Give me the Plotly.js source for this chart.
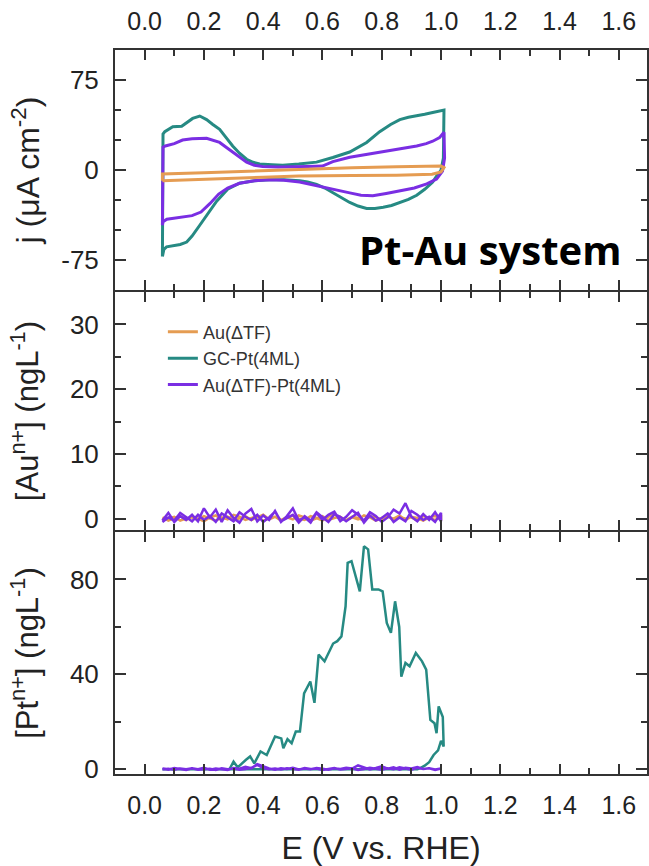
<!DOCTYPE html>
<html>
<head>
<meta charset="utf-8">
<script src="https://cdn.plot.ly/plotly-3.0.1.min.js"></script>
<style>html,body{margin:0;padding:0;background:#fff;}#chart{width:649px;height:866px;}</style>
</head>
<body>
<div id="chart"></div>
<script>
// ---------- Panel 1: cyclic voltammograms j (µA cm^-2) vs E ----------
const cvAuE = [0.06,0.06,0.2,0.4,0.52,0.7,0.85,1.0,1.01,1.0,0.97,0.85,0.7,0.52,0.4,0.2,0.06];
const cvAuJ = [-9,-3.3,-2.2,-0.4,0.8,2.0,2.8,3.3,2.0,-1.5,-3.5,-4.3,-4.6,-4.9,-6,-7.6,-9];

const cvPtE = [0.06,0.062,0.068,0.095,0.125,0.162,0.186,0.209,0.23,0.253,0.275,0.297,0.32,0.344,0.366,0.388,0.43,0.466,0.52,0.58,0.635,0.692,0.749,0.793,0.83,0.861,0.89,0.918,0.945,0.972,1.0,1.01,1.008,1.0,0.985,0.972,0.945,0.918,0.89,0.861,0.833,0.805,0.777,0.749,0.72,0.692,0.664,0.635,0.608,0.58,0.55,0.523,0.47,0.42,0.37,0.32,0.28,0.243,0.21,0.186,0.16,0.142,0.12,0.095,0.074,0.065,0.06];
const cvPtJ = [-72,30,32,36,36.5,43,45,42,38,34,27,20,14,9,6.5,5,4.5,4,5,6.6,10.5,15,23,32,38,42,44,45,46.5,48,49.5,50,10,0,-5,-10,-16,-21,-24.5,-27,-29.5,-31,-32,-32,-30,-27,-23,-18.5,-15,-12,-10,-9,-8,-8,-9,-11,-16,-26,-37,-46,-55,-60,-62,-63,-64,-66,-72];

const cvAuPtE = [0.06,0.062,0.07,0.1,0.128,0.16,0.209,0.23,0.253,0.275,0.297,0.32,0.344,0.37,0.398,0.45,0.5,0.55,0.6,0.635,0.692,0.749,0.805,0.861,0.918,0.95,0.972,0.995,1.01,1.012,1.005,0.985,0.952,0.91,0.861,0.815,0.77,0.73,0.692,0.635,0.58,0.523,0.47,0.42,0.37,0.32,0.28,0.25,0.22,0.19,0.16,0.13,0.1,0.075,0.062,0.06];
const cvAuPtJ = [-46,19,20,22,25,26,26.5,25,23,19,15,11,6.6,4,3,2.5,2.5,3,3.3,7,10.7,13,15,17.4,20,22,24,27,31.5,10,-1,-7.5,-11.6,-15,-17,-19.5,-21.5,-21,-19,-16,-13,-10,-8.5,-8,-9,-11,-15,-20,-28,-35,-38,-39,-40,-41,-43,-46];

// ---------- Panel 2: dissolved Au (ngL^-1) ----------
const icpE = [0.06,0.08,0.10,0.12,0.14,0.16,0.18,0.20,0.22,0.24,0.26,0.28,0.30,0.32,0.34,0.36,0.38,0.40,0.42,0.44,0.46,0.48,0.50,0.52,0.54,0.56,0.58,0.60,0.62,0.64,0.66,0.68,0.70,0.72,0.74,0.76,0.78,0.80,0.82,0.84,0.86,0.88,0.90,0.92,0.94,0.96,0.98,1.00,
              1.00,0.98,0.96,0.94,0.92,0.90,0.88,0.86,0.84,0.82,0.80,0.78,0.76,0.74,0.72,0.70,0.68,0.66,0.64,0.62,0.60,0.58,0.56,0.54,0.52,0.50,0.48,0.46,0.44,0.42,0.40,0.38,0.36,0.34,0.32,0.30,0.28,0.26,0.24,0.22,0.20,0.18,0.16,0.14,0.12,0.10,0.08,0.06];
const auAu = [0.2,-0.3,0.1,0.4,-0.2,0.3,0.0,-0.4,0.2,0.5,-0.1,0.3,-0.3,0.1,0.4,-0.2,0.2,0.6,-0.1,0.3,-0.3,0.2,0.5,0.0,-0.2,0.4,0.1,-0.3,0.3,0.7,0.0,-0.2,0.3,0.1,-0.3,0.4,0.2,-0.1,0.3,0.0,0.5,-0.2,0.3,0.1,-0.3,0.2,0.4,0.0,
              0.3,-0.2,0.1,0.4,-0.3,0.2,0.0,0.3,-0.2,0.4,0.1,-0.3,0.2,0.5,-0.1,0.2,-0.3,0.3,0.1,-0.2,0.4,0.0,-0.3,0.2,0.5,-0.1,0.2,-0.2,0.3,0.0,-0.3,0.4,0.1,-0.2,0.3,0.6,-0.1,0.2,-0.3,0.1,0.4,-0.2,0.2,0.0,-0.3,0.3,0.1,-0.2];
const auAuPt = [-0.3,0.9,-0.5,0.4,-0.2,0.6,-0.4,1.6,0.2,1.4,-0.5,1.3,0.1,-0.6,0.8,1.5,-0.4,0.5,-0.2,1.2,-0.5,0.4,1.6,-0.3,0.2,-0.6,0.9,-0.2,0.6,1.1,-0.4,0.3,1.3,0.6,-0.3,1.0,0.4,-0.5,0.2,1.4,0.8,2.4,0.3,-0.4,0.7,-0.2,1.0,-0.4,
                0.9,-0.5,0.3,-0.2,0.6,1.2,-0.4,0.2,-0.5,0.8,0.1,-0.3,0.5,-0.6,0.9,0.2,-0.4,0.3,0.7,-0.5,0.2,1.0,-0.3,0.4,-0.6,0.6,0.1,-0.4,1.1,0.2,-0.5,0.6,-0.2,0.3,1.0,-0.4,0.2,0.8,-0.5,0.4,-0.2,0.6,-0.4,0.3,0.9,-0.3,0.2,-0.5];

// ---------- Panel 3: dissolved Pt (ngL^-1) ----------
const ptE = [0.06,0.1,0.15,0.2,0.25,0.286,0.30,0.314,0.342,0.356,0.37,0.391,0.412,0.44,0.461,0.468,0.482,0.496,0.51,0.524,0.538,0.559,0.573,0.587,0.607,0.636,0.65,0.664,0.678,0.685,0.698,0.726,0.74,0.754,0.768,0.789,0.803,0.817,0.831,0.845,0.859,0.866,0.88,0.894,0.915,0.936,0.95,0.964,0.978,0.985,0.992,1.006,1.009,1.0,0.99,0.975,0.96,0.945,0.93,0.92,0.85,0.75,0.65,0.55,0.45,0.35,0.25,0.15,0.06];
const ptGCPt = [0,0,0,0,0,0,3.2,0.8,4,5.4,2.5,7.5,6,13.8,13,8.9,12.7,11,15.9,15.9,32,37,28,48.3,45.5,53,54,56,68.7,87,87.7,75,94,92.7,75.8,75.8,75,61.7,57.5,70.8,60,39,44.8,43.4,49,45.5,42,20.8,19.4,15.2,26.5,22,9.6,12,8,6,3,1.5,0.5,0,0,0,0,0,0,0,0,0,0];
const ptAuPt = [0.3,-0.2,0.5,0.1,-0.3,0.4,0.0,0.6,-0.2,0.3,0.1,-0.3,0.5,0.2,1.0,0.4,2.2,1.2,0.3,-0.2,0.4,0.1,0.6,-0.1,0.3,0.0,0.5,0.2,-0.2,0.4,0.1,0.6,0.3,1.6,0.9,-0.1,0.5,1.2,0.2,0.8,-0.2,0.6,0.3,0.9,0.1,0.4,-0.1,0.3,
                0.2,-0.3,0.4,0.1,0.6,-0.2,0.3,0.8,0.0,0.4,-0.2,0.3,0.6,0.1,-0.3,0.4,0.2,-0.1,0.5,0.0,-0.3,0.3,0.1,0.5,-0.2,0.2,0.4,-0.1,0.3,0.0,0.5,1.8,0.6,0.1,-0.2,0.3,0.0,0.4,-0.3,0.2,0.1,-0.2,0.4,0.0,0.3,-0.2,0.2,0.0];

const jTickVals = [-75, 0, 75];
const jTickText = ["-75", "0", "75"];

const names = ["Au(\u0394TF)", "GC-Pt(4ML)", "Au(\u0394TF)-Pt(4ML)"];
const colors = {au:"#E59C52", pt:"#268A83", aupt:"#7A2EE3"};

const traces = [
  {x:cvPtE, y:cvPtJ, xaxis:"x3", yaxis:"y3", mode:"lines", name:names[1], legendrank:2, line:{color:colors.pt, width:3}},
  {x:cvAuPtE, y:cvAuPtJ, xaxis:"x3", yaxis:"y3", mode:"lines", name:names[2], legendrank:3, line:{color:colors.aupt, width:3}},
  {x:cvAuE, y:cvAuJ, xaxis:"x3", yaxis:"y3", mode:"lines", name:names[0], legendrank:1, line:{color:colors.au, width:3}},
  {x:icpE, y:auAu, xaxis:"x2", yaxis:"y2", mode:"lines", showlegend:false, line:{color:colors.au, width:2.5}},
  {x:icpE, y:auAuPt, xaxis:"x2", yaxis:"y2", mode:"lines", showlegend:false, line:{color:colors.aupt, width:2.5}},
  {x:ptE, y:ptGCPt, xaxis:"x", yaxis:"y", mode:"lines", showlegend:false, line:{color:colors.pt, width:2.5}},
  {x:icpE, y:ptAuPt, xaxis:"x", yaxis:"y", mode:"lines", showlegend:false, line:{color:colors.aupt, width:2.5}}
];

const font = "Liberation Sans, Arial, sans-serif";
const axCol = "#333333";
const txtCol = "#222222";
function xax(extra){
  return Object.assign({range:[-0.1,1.695], tick0:0, dtick:0.2, tickformat:".1f", ticks:"inside", ticklen:10, tickwidth:2, tickcolor:axCol,
    minor:{dtick:0.1, ticks:"inside", ticklen:6, tickwidth:2, tickcolor:axCol},
    showline:true, linewidth:2, linecolor:axCol, mirror:"allticks", showgrid:false, zeroline:false,
    tickfont:{family:font, size:25, color:txtCol}, ticklabelstandoff:8}, extra);
}
function yax(extra){
  return Object.assign({ticks:"inside", ticklen:11, tickwidth:2, tickcolor:axCol,
    showline:true, linewidth:2, linecolor:axCol, mirror:"allticks", showgrid:false, zeroline:false,
    tickfont:{family:font, size:26, color:txtCol}, ticklabelstandoff:9}, extra);
}

const layout = {
  width:649, height:866,
  margin:{l:115, r:2, t:50, b:92},
  paper_bgcolor:"#ffffff", plot_bgcolor:"#ffffff",
  showlegend:true,
  legend:{x:0.09, y:0.636, xanchor:"left", yanchor:"top", bgcolor:"rgba(0,0,0,0)", font:{family:font, size:18, color:"#333"}, tracegroupgap:0},
  xaxis: xax({anchor:"y", title:{text:"E (V vs. RHE)", font:{family:font, size:32, color:txtCol}, standoff:20}}),
  xaxis2: xax({anchor:"y2", matches:"x", showticklabels:false}),
  xaxis3: xax({anchor:"y3", matches:"x", side:"top"}),
  yaxis: yax({domain:[0,0.3342], range:[-2,100], tick0:0, dtick:40, minor:{dtick:20, ticks:"inside", ticklen:6, tickwidth:2, tickcolor:axCol},
    title:{text:"[Pt<sup>n+</sup>] (ngL<sup>-1</sup>)", font:{family:font, size:31, color:txtCol}, standoff:22}}),
  yaxis2: yax({domain:[0.337,0.6656], range:[-1.75,35], tick0:0, dtick:10, minor:{dtick:5, ticks:"inside", ticklen:6, tickwidth:2, tickcolor:axCol},
    title:{text:"[Au<sup>n+</sup>] (ngL<sup>-1</sup>)", font:{family:font, size:31, color:txtCol}, standoff:22}}),
  yaxis3: yax({domain:[0.6684,1], range:[-100,100], tickvals:jTickVals, ticktext:jTickText, minor:{dtick:25, ticks:"inside", ticklen:6, tickwidth:2, tickcolor:axCol},
    title:{text:"j (\u03bcA cm<sup>-2</sup>)", font:{family:font, size:32, color:txtCol}, standoff:12}}),
  annotations:[
    {text:"<b>Pt-Au system</b>", xref:"x3", yref:"y3", x:1.165, y:-66, xanchor:"center", yanchor:"middle", showarrow:false,
     font:{family:"Open Sans, Noto Sans, sans-serif", size:40, color:"#000"}}
  ]
};

Plotly.newPlot("chart", traces, layout, {displayModeBar:false, staticPlot:true});
</script>
</body>
</html>
